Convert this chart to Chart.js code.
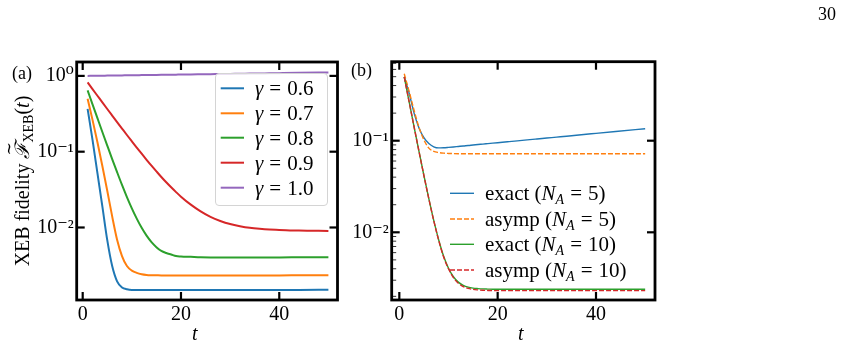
<!DOCTYPE html>
<html><head><meta charset="utf-8">
<script src="https://cdn.jsdelivr.net/npm/chart.js@4/dist/chart.umd.min.js"></script>
<style>
html,body{margin:0;padding:0;background:#fff;}
#wrap{position:relative;width:845px;height:349px;overflow:hidden;font-family:"Liberation Serif","DejaVu Serif",serif;color:#000;}
canvas{position:absolute;top:0;}
.t{position:absolute;white-space:nowrap;line-height:20px;height:20px;font-size:20px;}
.lg{font-size:21px;}
.mi{font-style:italic;}
.eq{margin:0 6px;}
sub{font-size:14px;vertical-align:-4px;line-height:0;}
#legA{position:absolute;left:214.5px;top:73px;width:113px;height:133px;border:1px solid #d4d4d4;border-radius:4px;background:rgba(255,255,255,0.8);box-sizing:border-box;}
#ylab{position:absolute;left:-128.3px;top:168.5px;width:300px;height:24px;line-height:24px;text-align:center;font-size:20px;transform:rotate(-90deg);white-space:nowrap;}
.tf{position:relative;display:inline-block;font-family:"DejaVu Serif",serif;font-style:italic;}
.tl{position:absolute;left:3px;top:-13px;font-size:16px;font-style:normal;}
</style></head><body>
<div id="wrap">
<canvas id="ca" width="345" height="349" style="left:0"></canvas>
<canvas id="cb" width="500" height="349" style="left:345px"></canvas>
<div id="legA"></div>
<svg id="handles" width="845" height="349" style="position:absolute;left:0;top:0"></svg>
<div id="ylab">XEB fidelity <span class="tf">ℱ<span class="tl">~</span></span><sub>XEB</sub>(<span class="mi">t</span>)</div>
<div class="t" style="left:12px;top:63px;font-size:18px">(a)</div>
<div class="t" style="left:351px;top:60px;font-size:18px">(b)</div>
<div class="t" style="left:818px;top:4px;font-size:18px">30</div>
<div class="t mi" style="left:192px;top:323px">t</div>
<div class="t mi" style="left:518px;top:323px">t</div>
<div id="texts"></div>
</div>
<script>
// ---- data ----
const tSteps = [1,2,3,4,5,6,7,8,9,10,11,12,13,14,15,16,17,18,19,20,22,24,26,28,30,32,34,36,38,40,44,50];
const gamma06 = [0.367,0.143,0.052,0.019,0.0068,0.0031,0.00195,0.00162,0.00153,0.0015,
  0.0015,0.0015,0.0015,0.0015,0.0015,0.0015,0.0015,0.0015,0.0015,0.0015,
  0.0015,0.0015,0.0015,0.0015,0.0015,0.0015,0.0015,0.0015,0.0015,0.0015,0.0015,0.00151];
const gamma07 = [0.499,0.263,0.133,0.0648,0.0305,0.0140,0.0069,0.0042,0.0031,0.0027,
  0.00252,0.00242,0.00237,0.00235,0.00234,0.00233,0.00233,0.00233,0.00233,0.00233,
  0.00233,0.00233,0.00233,0.00233,0.00233,0.00233,0.00233,0.00233,0.00233,0.00233,0.00234,0.00235];
const gamma08 = [0.644,0.422,0.277,0.182,0.1204,0.080,0.0537,0.0364,0.0252,0.0179,
  0.0131,0.0099,0.0078,0.0064,0.0055,0.0049,0.0046,0.0044,0.0042,0.00415,
  0.0041,0.00405,0.00403,0.00403,0.00403,0.00403,0.00403,0.00403,0.00403,0.00403,0.00404,0.00405];
const gamma09 = [0.819,0.669,0.547,0.447,0.366,0.300,0.246,0.202,0.166,0.137,
  0.1133,0.094,0.0782,0.0654,0.055,0.0464,0.0395,0.0339,0.0293,0.0255,
  0.0200,0.0163,0.0138,0.0122,0.0111,0.0104,0.0099,0.0096,0.0094,0.0093,0.0091,0.0090];
const gamma10 = [1.000,1.002,1.004,1.006,1.009,1.011,1.013,1.015,1.017,1.019,
  1.021,1.024,1.026,1.028,1.030,1.032,1.034,1.037,1.039,1.041,
  1.046,1.050,1.054,1.059,1.063,1.068,1.072,1.077,1.081,1.086,1.096,1.110];
const exact5 = [0.495,0.33,0.20,0.138,0.108,0.093,0.0858,0.0834,0.0838,0.0846,
  0.0855,0.0865,0.0875,0.0887,0.0897,0.0908,0.0918,0.0929,0.0940,0.0951,
  0.0973,0.0996,0.1021,0.1045,0.1069,0.1094,0.1119,0.1148,0.1175,0.1202,0.1259,0.1352];
const asymp5 = [0.538,0.345,0.215,0.14,0.102,0.083,0.0765,0.0742,0.0731,0.0726,
  0.0723,0.0721,0.0720,0.0720,0.0720,0.0720,0.0720,0.0720,0.0720,0.0720,
  0.0720,0.0720,0.0720,0.0720,0.0720,0.0720,0.0720,0.0720,0.0720,0.0720,0.0720,0.0720];
const exact10 = [0.497,0.2652,0.1419,0.0765,0.0417,0.0233,0.0135,0.0083,0.0055,0.00405,
  0.00327,0.00286,0.00264,0.00252,0.00246,0.00243,0.00241,0.0024,0.00239,0.00239,
  0.00239,0.00239,0.00239,0.00239,0.00239,0.00239,0.00239,0.00239,0.00239,0.00239,0.00239,0.00239];
const asymp10 = [0.497,0.265,0.1418,0.0764,0.0416,0.0232,0.0134,0.0082,0.0054,0.0040,
  0.0032,0.00278,0.00256,0.00244,0.00238,0.00235,0.00233,0.00232,0.00231,0.00231,
  0.00231,0.00231,0.00231,0.00231,0.00231,0.00231,0.00231,0.00231,0.00231,0.00231,0.00231,0.00231];
const xTicks = [0, 20, 40];
const yTicksA = [1, 0.1, 0.01];
const yTicksB = [0.1, 0.01];
const gammaLabels = ['0.6','0.7','0.8','0.9','1.0'];
const bLabels = [['exact','5'],['asymp','5'],['exact','10'],['asymp','10']];

// ---- style ----
const C = ['#1f77b4','#ff7f0e','#2ca02c','#d62728','#9467bd'];
const FONT = '"Liberation Serif", "DejaVu Serif", serif';
Chart.defaults.font.family = FONT;
Chart.defaults.color = '#000';

const pts = arr => tSteps.map((t,i)=>({x:t,y:arr[i]}));
const supMap = {'0':'⁰','1':'¹','2':'²','-':'⁻'};
const logLabel = v => { const e = Math.round(Math.log10(v)); return '10' + String(e).split('').map(c=>supMap[c]).join(''); };

function frame(minor){
  return { id:'frame', afterDatasetsDraw(chart){
    const {ctx, chartArea:a, scales:{x,y}} = chart;
    ctx.save(); ctx.strokeStyle='#000'; ctx.lineCap='butt';
    const L=(x1,y1,x2,y2)=>{ctx.beginPath();ctx.moveTo(x1,y1);ctx.lineTo(x2,y2);ctx.stroke();};
    ctx.lineWidth=2.2;
    xTicks.forEach(v=>{const p=x.getPixelForValue(v); L(p,a.bottom,p,a.bottom-8); L(p,a.top,p,a.top+8);});
    y.ticks.forEach(t=>{const p=y.getPixelForValue(t.value); L(a.left,p,a.left+8,p); L(a.right,p,a.right-8,p);});
    if(minor){
      ctx.lineWidth=0.8;
      [0.001,0.01,0.1].forEach(d=>{for(let k=2;k<=9;k++){const v=d*k; if(v>y.min&&v<y.max){const p=y.getPixelForValue(v); L(a.left,p,a.left+4.5,p);}}});
    }
    ctx.lineWidth=2.8;
    ctx.strokeRect(a.left,a.top,a.right-a.left,a.bottom-a.top);
    ctx.restore();
  }};
}

function makeScales(xmin,xmax,ymin,ymax,yt,yw){
  return {
    x:{type:'linear',min:xmin,max:xmax,grid:{display:false,drawTicks:false},border:{display:false},
       ticks:{font:{size:20,family:FONT},color:'#000',padding:3,maxRotation:0},
       afterBuildTicks:s=>{s.ticks=xTicks.map(v=>({value:v}));},
       afterFit:s=>{s.height=49;}},
    y:{type:'logarithmic',min:ymin,max:ymax,grid:{display:false,drawTicks:false},border:{display:false},
       ticks:{font:{size:20,family:FONT},color:'#000',padding:3,callback:v=>logLabel(v)},
       afterBuildTicks:s=>{s.ticks=yt.map(v=>({value:v}));},
       afterFit:s=>{s.width=yw;}}
  };
}

const dsA = [gamma06,gamma07,gamma08,gamma09,gamma10].map((arr,i)=>({
  data:pts(arr),borderColor:C[i],borderWidth:2,pointRadius:0,fill:false,order:10-i,cubicInterpolationMode:'monotone'}));

new Chart(document.getElementById('ca'),{
  type:'line',
  data:{datasets:dsA},
  options:{responsive:false,animation:false,devicePixelRatio:1,
    layout:{padding:{left:0,right:7.5,top:62,bottom:0}},
    plugins:{legend:{display:false},tooltip:{enabled:false}},
    scales:makeScales(-1.22,51.85,0.001105,1.525,yTicksA,76.7)},
  plugins:[frame(false)]
});

const styB = [[C[0],[]],[C[1],[5,2]],[C[2],[]],[C[3],[5,2]]];
const dsB = [exact5,asymp5,exact10,asymp10].map((arr,i)=>({
  data:pts(arr),borderColor:styB[i][0],borderDash:styB[i][1],borderWidth:1.4,pointRadius:0,fill:false,order:10-i,cubicInterpolationMode:'monotone'}));

new Chart(document.getElementById('cb'),{
  type:'line',
  data:{datasets:dsB},
  options:{responsive:false,animation:false,devicePixelRatio:1,
    layout:{padding:{left:0,right:190,top:61.7,bottom:0}},
    plugins:{legend:{display:false},tooltip:{enabled:false}},
    scales:makeScales(-1.55,52.0,0.001824,0.7285,yTicksB,46.7)},
  plugins:[frame(true)]
});

// ---- legends ----
const svg = document.getElementById('handles');
const texts = document.getElementById('texts');
function handle(x1,x2,y,col,dash,w){
  const l=document.createElementNS('http://www.w3.org/2000/svg','line');
  l.setAttribute('x1',x1);l.setAttribute('x2',x2);l.setAttribute('y1',y);l.setAttribute('y2',y);
  l.setAttribute('stroke',col);l.setAttribute('stroke-width',w);
  if(dash) l.setAttribute('stroke-dasharray',dash);
  svg.appendChild(l);
}
function txt(x,y,html){
  const d=document.createElement('div');d.className='t lg';d.style.left=x+'px';d.style.top=(y-10)+'px';d.innerHTML=html;texts.appendChild(d);
}
const rowsA=[88.3,113.3,137.7,162.7,187.7];
gammaLabels.forEach((g,i)=>{handle(220.7,244,rowsA[i],C[i],null,2); txt(255,rowsA[i],'<span class="mi">γ</span><span class="eq">=</span>'+g);});
const rowsB=[193.3,219,244.3,270];
bLabels.forEach((b,i)=>{handle(450,474,rowsB[i],styB[i][0],styB[i][1].length?'5,2':null,1.4);
  txt(485,rowsB[i],b[0]+' (<span class="mi">N</span><sub class="mi">A</sub><span class="eq">=</span>'+b[1]+')');});
</script>
</body></html>
